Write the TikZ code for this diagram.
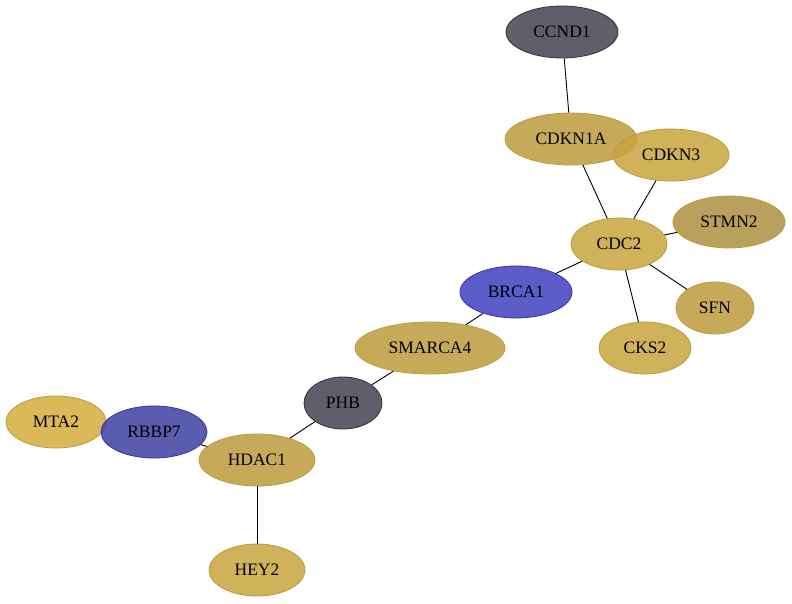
\documentclass[tikz,border=0pt]{standalone}
\usepackage{fontspec}
\setmainfont{Liberation Serif}
\usetikzlibrary{shapes.geometric}

\definecolor{goldA}{RGB}{188,155,61}
\definecolor{goldB}{RGB}{200,164,61}
\definecolor{goldC}{RGB}{211,173,59}
\definecolor{goldD}{RGB}{173,143,63}
\definecolor{goldline}{RGB}{190,155,55}
\definecolor{grayfill}{RGB}{67,67,82}
\definecolor{grayline}{RGB}{50,50,60}
\definecolor{blueA}{RGB}{63,63,190}
\definecolor{blueB}{RGB}{63,63,161}
\definecolor{blueline}{RGB}{50,50,170}

\begin{document}
\begin{tikzpicture}[x=1pt,y=-1pt,
  gene/.style={
   ellipse,
   draw,
   line width=0.8pt,
   inner sep=0pt,
   fill opacity=0.85,
   text opacity=1,
   minimum height=52pt,
   font=\fontsize{17.5}{20}\selectfont
  },
  gold/.style={gene,fill=#1,draw=goldline},
  gray/.style={gene,fill=grayfill,draw=grayline},
  blue/.style={gene,fill=#1,draw=blueline},
  link/.style={draw=black,line width=0.9pt}]
  \useasboundingbox (0,0) rectangle (792,604);

  % nodes
  \node[gray,minimum width=112pt] (ccnd1) at (562,32) {CCND1};
  \node[gold=goldA,minimum width=132pt] (cdkn1a) at (571,139) {CDKN1A};
  \node[gold=goldB,minimum width=116pt] (cdkn3) at (671,155) {CDKN3};
  \node[gold=goldD,minimum width=112pt] (stmn2) at (729,222) {STMN2};
  \node[gold=goldB,minimum width=96pt] (cdc2) at (619,244) {CDC2};
  \node[blue=blueA,minimum width=112pt] (brca1) at (516,292) {BRCA1};
  \node[gold=goldA,minimum width=78pt] (sfn) at (715,308) {SFN};
  \node[gold=goldB,minimum width=92pt] (cks2) at (645,348) {CKS2};
  \node[gold=goldA,minimum width=150pt] (smarca4) at (430,348) {SMARCA4};
  \node[gray,minimum width=78pt] (phb) at (343,403) {PHB};
  \node[gold=goldC,minimum width=100pt] (mta2) at (56,422) {MTA2};
  \node[blue=blueB,minimum width=106pt] (rbbp7) at (154,432) {RBBP7};
  \node[gold=goldA,minimum width=116pt] (hdac1) at (257,460) {HDAC1};
  \node[gold=goldB,minimum width=96pt] (hey2) at (257,570) {HEY2};

  % edges
  \draw[link] (ccnd1) -- (cdkn1a);
  \draw[link] (cdkn1a) -- (cdc2);
  \draw[link] (cdkn3) -- (cdc2);
  \draw[link] (stmn2) -- (cdc2);
  \draw[link] (cdc2) -- (brca1);
  \draw[link] (cdc2) -- (sfn);
  \draw[link] (cdc2) -- (cks2);
  \draw[link] (brca1) -- (smarca4);
  \draw[link] (smarca4) -- (phb);
  \draw[link] (phb) -- (hdac1);
  \draw[link] (hdac1) -- (rbbp7);
  \draw[link] (hdac1) -- (hey2);
\end{tikzpicture}
\end{document}
